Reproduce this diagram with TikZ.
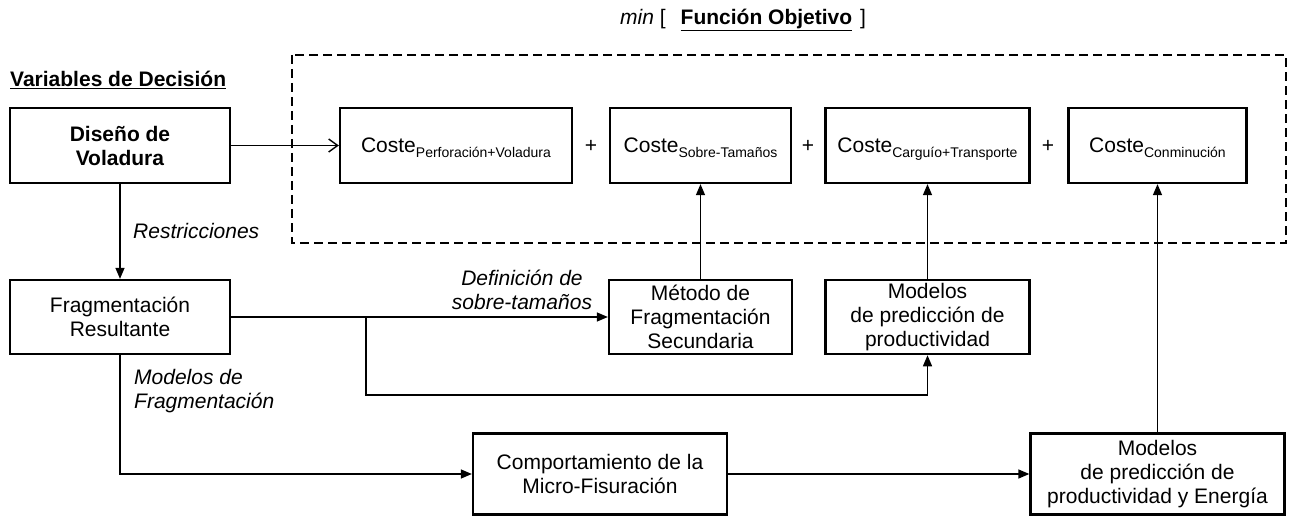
\documentclass[tikz,border=0pt]{standalone}
\usepackage{fontspec}
\setmainfont{Liberation Sans}
\usetikzlibrary{arrows.meta}
\tikzset{box/.style={draw, line width=2.3pt, align=center, font=\fontsize{21}{24}\selectfont},
         txt/.style={inner sep=0pt, align=center, font=\fontsize{21}{24}\selectfont},
         lbl/.style={txt, font=\fontsize{21}{24}\selectfont\itshape},
         conn/.style={line width=1.4pt, -{Triangle[length=11pt,width=9pt]}},
         barb/.style={line width=1.4pt, -{Straight Barb[length=9pt,width=13pt]}},
         dashbox/.style={line width=2pt, dash pattern=on 9pt off 5pt}}

\begin{document}
\begin{tikzpicture}[x=1pt,y=-1pt]
  \useasboundingbox (0,0) rectangle (1294,516);
  \def\coste#1{Coste\raisebox{-5pt}[0pt][0pt]{\fontsize{14}{16}\selectfont #1}}
  % titulos
  \node[txt,anchor=west] (obj) at (620,20) {\textit{min} [\hspace{15pt}\textbf{\underline{Función Objetivo}}\hspace{8pt}]};
  \node[txt,anchor=west] (vars) at (10,80) {\textbf{\underline{Variables de Decisión}}};
  % funcion objetivo
  \draw[dashbox] (292,55) rectangle (1286,243);
  \node[box,minimum width=232,minimum height=75] (cA) at (456,145.5) {\coste{Perforación+Voladura}};
  \node[box,minimum width=181,minimum height=75] (cB) at (700.5,145.5) {\coste{Sobre-Tamaños}};
  \node[box,minimum width=204,minimum height=75] (cC) at (927.5,145.5) {\coste{Carguío+Transporte}};
  \node[box,minimum width=178,minimum height=75] (cD) at (1157.5,145.5) {\coste{Conminución}};
  \node[txt] (pA) at (591,146) {+};
  \node[txt] (pB) at (808,146) {+};
  \node[txt] (pC) at (1048,146) {+};
  % modelos
  \node[box,minimum width=220,minimum height=75] (dis) at (120,145.5) {\textbf{Diseño de}\\\textbf{Voladura}};
  \node[box,minimum width=220,minimum height=74] (frag) at (120,317) {Fragmentación\\Resultante};
  \node[box,minimum width=183,minimum height=74] (met) at (700.5,317) {Método de\\Fragmentación\\Secundaria};
  \node[box,minimum width=204,minimum height=74] (mpred) at (927.5,317) {Modelos\\de predicción de\\productividad};
  \node[box,minimum width=254,minimum height=81] (comp) at (600,474) {Comportamiento de la\\Micro-Fisuración};
  \node[box,minimum width=254,minimum height=81] (ener) at (1157.5,474) {Modelos\\de predicción de\\productividad\ y Energía};
  % etiquetas
  \node[lbl,anchor=west] (res) at (133,231) {Restricciones};
  \node[lbl] (defs) at (522,290) {Definición de\\sobre-tamaños};
  \node[lbl,anchor=west,align=left] (mfrag) at (134,391) {Modelos de\\Fragmentación};
  % flechas
  \coordinate (split) at (366,317);
  \coordinate (bend) at (366,395);
  \draw[barb] (dis.east) -- (cA.west);
  \draw[conn] (dis) -- (frag);
  \draw[conn] (frag) -- (met);
  \draw[conn] (split) -- (bend) -| (mpred.south);
  \draw[conn] (frag.south) |- (comp.west);
  \draw[conn] (comp) -- (ener);
  \draw[conn] (met) -- (cB);
  \draw[conn] (mpred) -- (cC);
  \draw[conn] (ener) -- (cD);
\end{tikzpicture}
\end{document}
